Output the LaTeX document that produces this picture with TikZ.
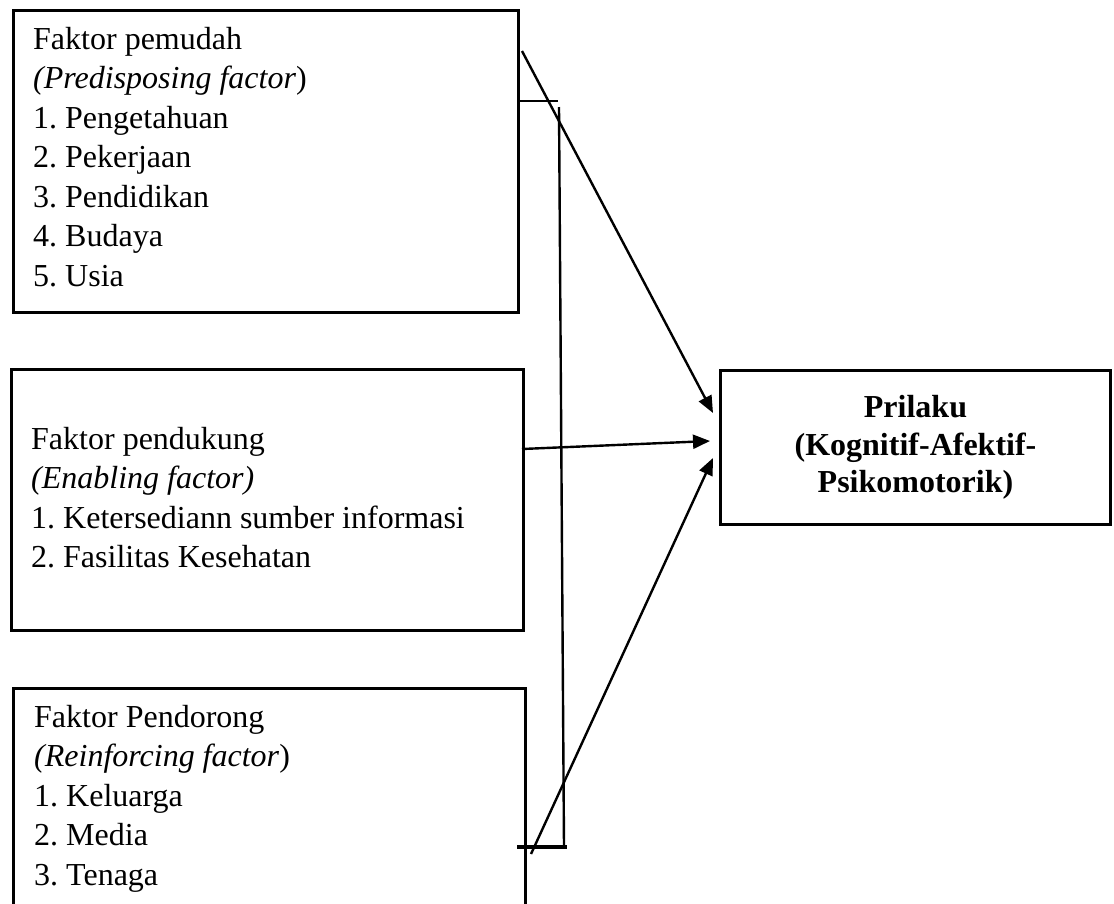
\documentclass[tikz,border=0pt]{standalone}
\usepackage{fontspec}
\setmainfont{Liberation Serif}
\usetikzlibrary{arrows.meta}
\frenchspacing
\begin{document}
\frenchspacing
\begin{tikzpicture}[x=1pt,y=-1pt,
  boxst/.style={draw, line width=3pt, rectangle, anchor=north west, inner sep=0pt},
  txt/.style={anchor=north west, inner sep=0pt, align=left, font=\frenchspacing\fontsize{32}{39.5}\selectfont},
  conn/.style={line width=2.4pt},
  thickconn/.style={line width=3.6pt},
  arr/.style={line width=2.4pt, -{Triangle[length=17pt,width=14pt]}}]
\clip (0,0) rectangle (1114,903);
\fill[white] (0,0) rectangle (1114,903);

% boxes
\node[boxst, minimum width=505pt, minimum height=302pt] (b1) at (12,9) {};
\node[boxst, minimum width=512pt, minimum height=261pt] (b2) at (10,368) {};
\node[boxst, minimum width=512pt, minimum height=260pt] (b3) at (12,687) {};
\node[boxst, minimum width=390pt, minimum height=154pt, align=center,
      font=\bfseries\fontsize{32}{37.5}\selectfont] (pr) at (719,369)
      {Prilaku\\(Kognitif-Afektif-\\Psikomotorik)};

% texts
\node[txt] (t1) at (33,27) {Faktor pemudah\\\textit{(Predisposing factor})\\1. Pengetahuan\\2. Pekerjaan\\3. Pendidikan\\4. Budaya\\5. Usia};
\node[txt] (t2) at (31,427) {Faktor pendukung\\\textit{(Enabling factor)}\\1. Ketersediann sumber informasi\\2. Fasilitas Kesehatan};
\node[txt] (t3) at (34,705) {Faktor Pendorong\\\textit{(Reinforcing factor})\\1. Keluarga\\2. Media\\3. Tenaga};

% bracket lines
\coordinate (tl) at (517,101);
\coordinate (tr) at (558,101);
\coordinate (vt) at (559,107);
\coordinate (vb) at (564,847);
\coordinate (bl) at (517,847);
\coordinate (br) at (567,847);
\draw[conn] (tl) -- (tr);
\draw[conn] (vt) -- (vb);
\draw[thickconn] (bl) -- (br);

% arrows
\coordinate (a1s) at (522,51);
\coordinate (a1e) at (713,413);
\coordinate (a2s) at (522,449);
\coordinate (a2e) at (710,441);
\coordinate (a3s) at (531,854);
\coordinate (a3e) at (713,458);
\draw[arr] (a1s) -- (a1e);
\draw[arr] (a2s) -- (a2e);
\draw[arr] (a3s) -- (a3e);
\end{tikzpicture}
\end{document}
